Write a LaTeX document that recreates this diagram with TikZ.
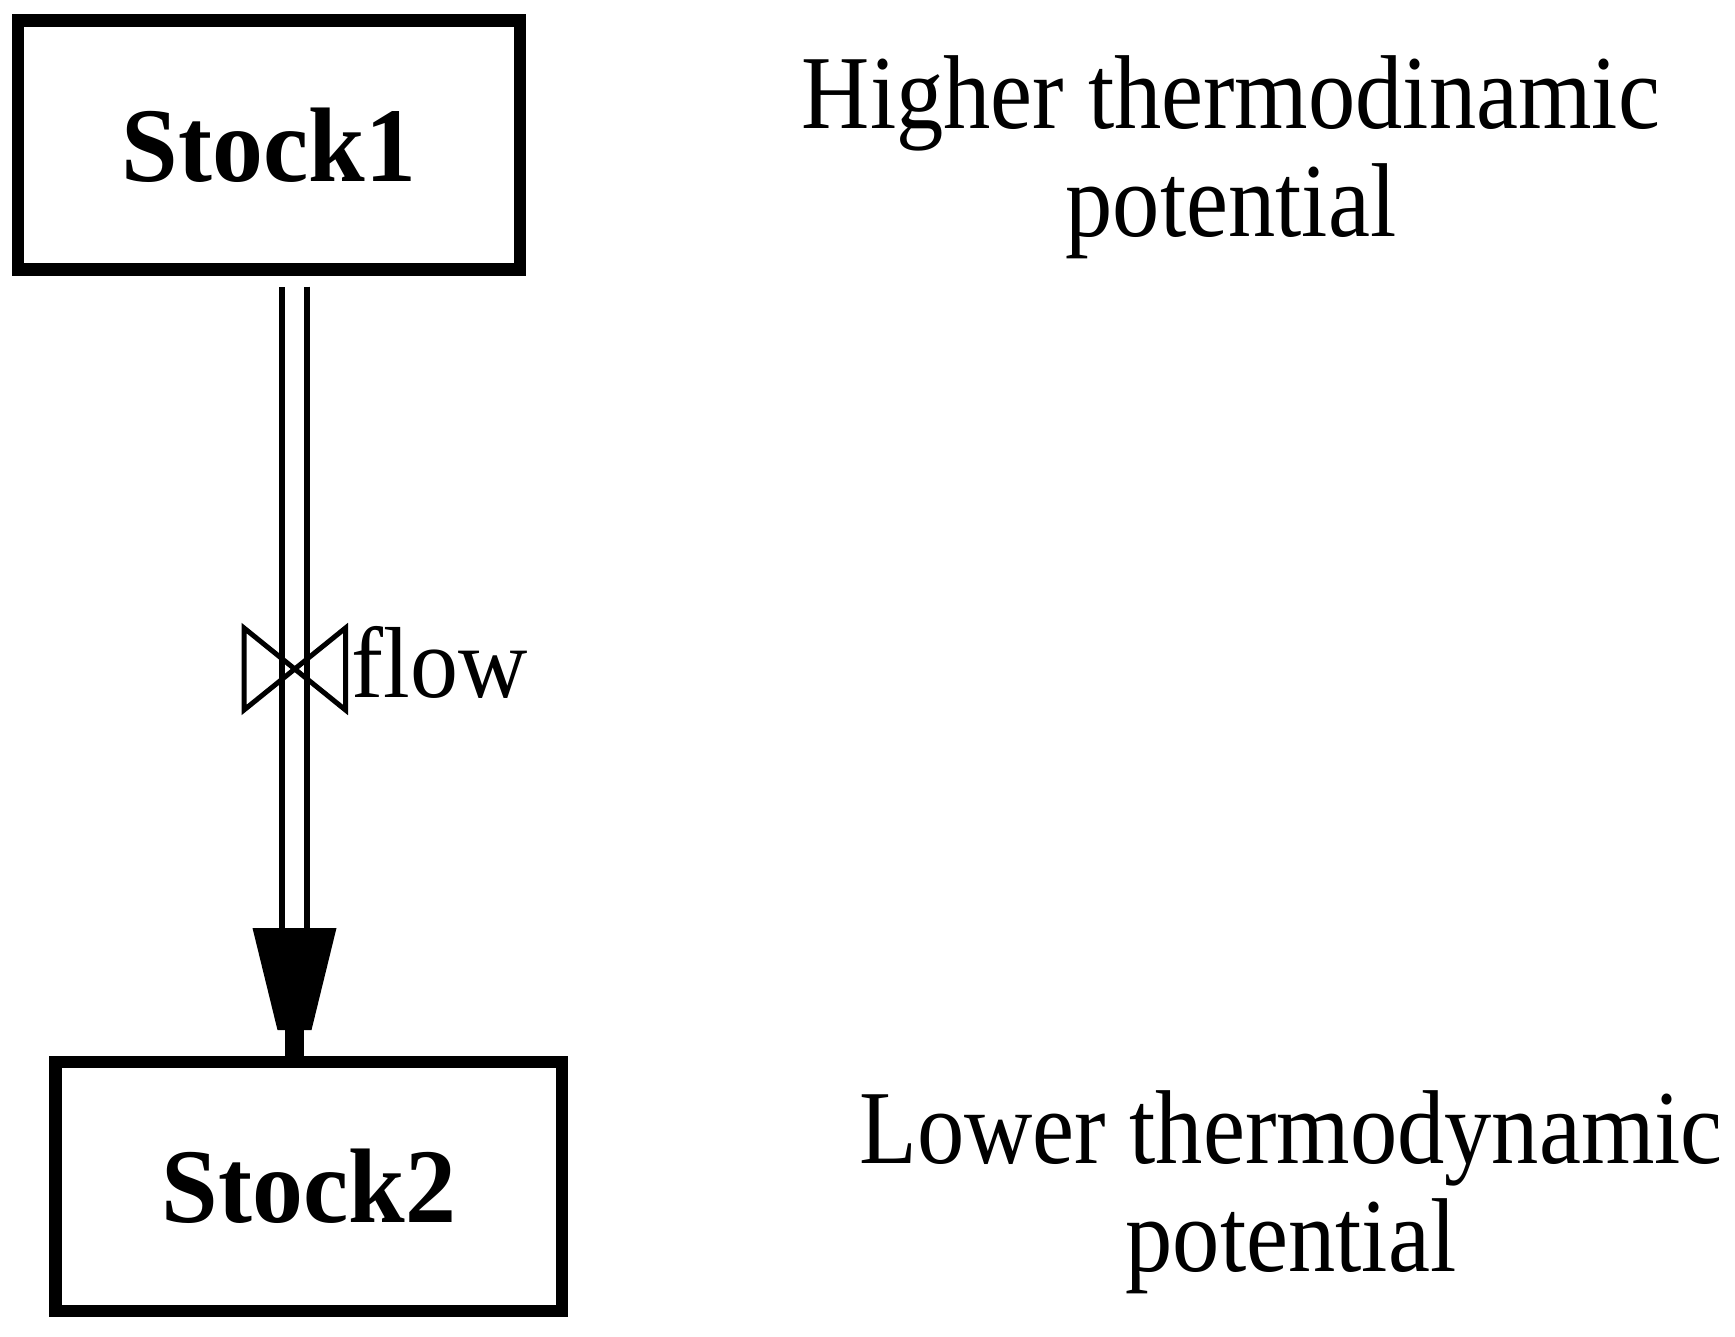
\documentclass[tikz,border=0pt]{standalone}
\usepackage{fontspec}
\setmainfont{Liberation Serif}[FakeStretch=0.9]
\newfontfamily\stockfont{Liberation Serif}[FakeStretch=0.96]
\newfontfamily\flowfont{Liberation Serif}[FakeStretch=0.95]
\begin{document}
\begin{tikzpicture}[x=0.5pt,y=-0.5pt,
  stockbox/.style={draw, line width=6.2pt, minimum width=251.1pt, minimum height=124.5pt, inner sep=0pt,
    font=\stockfont\bfseries\fontsize{53pt}{54pt}\selectfont},
  note/.style={align=center, inner sep=0pt, anchor=base, font=\fontsize{52.5pt}{54pt}\selectfont},
  pipe/.style={double, double distance=9.65pt, line width=3pt},
  valveline/.style={line width=2.5pt, line join=miter},
  stem/.style={line width=9.5pt}]
\useasboundingbox (0,0) rectangle (1735,1337);
\node[stockbox] (stock1) at (268.9,145) {Stock1};
\node[stockbox, minimum width=253.3pt] (stock2) at (308.9,1186.5) {Stock2};
\coordinate (fx) at (294.5,0);
\coordinate (headtop) at (294.5,928);
\coordinate (headend) at (294.5,1030);
\coordinate (valve) at (294.75,669);
\draw[pipe, shorten <=5.5pt] (stock1.south -| fx) -- (headtop);
\fill (headtop) ++(-42,0) -- ++(84,0) -- ++(-25,102) -- ++(-34,0) -- cycle;
\draw[stem] (headend) -- (stock2.north -| fx);
\draw[valveline] (valve) ++(-50.75,-41) -- ++(0,82) -- ++(101.5,-82) -- ++(0,82) -- cycle;
\node[anchor=base west, inner sep=0pt, font=\flowfont\fontsize{50.5pt}{54pt}\selectfont] (flow) at (351,697) {flow};
\node[note] (higher) at (1231,236.7) {Higher thermodinamic\\potential};
\node[note] (lower) at (1291,1271.7) {Lower thermodynamic\\potential};
\end{tikzpicture}
\end{document}
